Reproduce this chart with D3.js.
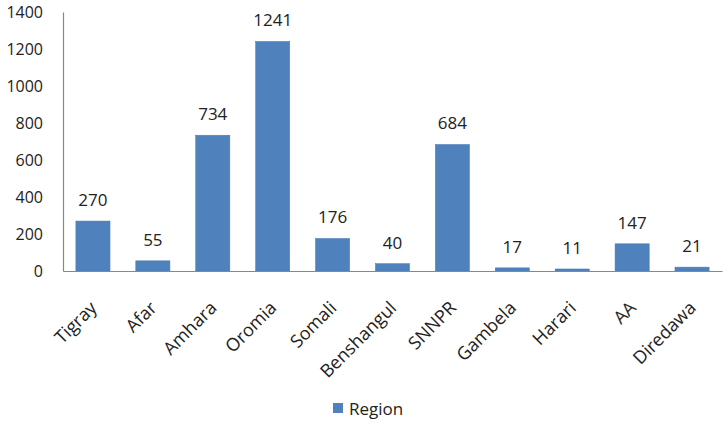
<!DOCTYPE html>
<html><head><meta charset="utf-8">
<script src="https://cdn.jsdelivr.net/npm/d3@7"></script>
<style>body{margin:0;background:#fff}svg{display:block}text{font-family:"Open Sans",sans-serif;fill:#222}</style>
</head><body><svg id="c" width="728" height="424"></svg>
<script>
const categories = ["Tigray","Afar","Amhara","Oromia","Somali","Benshangul","SNNPR","Gambela","Harari","AA","Diredawa"];
const values = [270,55,734,1241,176,40,684,17,11,147,21];
const yTicks = [0,200,400,600,800,1000,1200,1400];
const seriesName = "Region";

const svg = d3.select("#c");
const m = {l:63, r:6, t:12, b:153};
const W = 728, H = 424;
const x = d3.scaleBand().domain(categories).range([m.l, W-m.r]).paddingInner(0.43).paddingOuter(0.215);
const y = d3.scaleLinear().domain([0,1400]).range([H-m.b, m.t]);
const color = "#4F81BD";

svg.selectAll("rect.bar").data(values).enter().append("rect")
  .attr("x",(d,i)=>x(categories[i])).attr("y",d=>y(d))
  .attr("width",x.bandwidth()).attr("height",d=>y(0)-y(d))
  .attr("fill",color).attr("stroke","#4A7AB5").attr("stroke-width",0.5);

svg.selectAll("text.val").data(values).enter().append("text")
  .attr("x",(d,i)=>x(categories[i])+x.bandwidth()/2).attr("y",d=>y(d)-15)
  .attr("text-anchor","middle").attr("font-size",17).text(d=>d);

const ya = d3.axisLeft(y).tickValues(yTicks).tickFormat(d3.format("d")).tickSize(0).tickPadding(20);
const gy = svg.append("g").attr("transform",`translate(${m.l},0)`).call(ya);
gy.select(".domain").attr("stroke","#888").attr("stroke-width",1.2);
gy.selectAll("text").attr("font-size",16).attr("font-family","'Open Sans',sans-serif").attr("fill","#222");

const xa = d3.axisBottom(x).tickSize(0).tickPadding(0);
const gx = svg.append("g").attr("transform",`translate(0,${y(0)})`).call(xa);
gx.select(".domain").attr("stroke","#888").attr("stroke-width",1.2);
gx.selectAll("text").attr("font-size",18).attr("font-family","'Open Sans',sans-serif").attr("fill","#222")
  .attr("text-anchor","end").attr("dy",0)
  .attr("transform","translate(5,38) rotate(-45)");

const lg = svg.append("g");
lg.append("rect").attr("x",333).attr("y",403).attr("width",10).attr("height",10).attr("fill",color);
lg.append("text").attr("x",349).attr("y",415).attr("font-size",17).text(seriesName);
</script></body></html>
